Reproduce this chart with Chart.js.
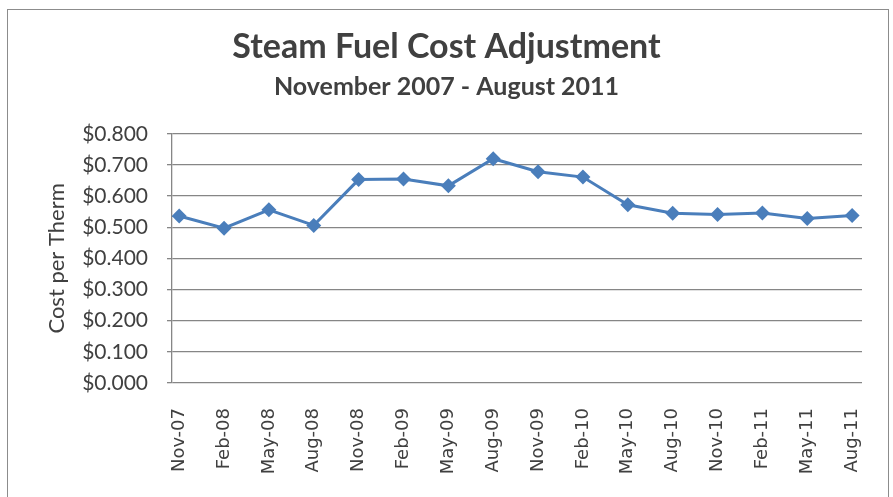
<!DOCTYPE html>
<html>
<head>
<meta charset="utf-8">
<script src="https://cdn.jsdelivr.net/npm/chart.js@4.4.0/dist/chart.umd.min.js"></script>
<style>
  html, body { margin: 0; padding: 0; background: #ffffff; }
  #wrap { width: 893px; height: 497px; position: relative; }
</style>
</head>
<body>
<div id="wrap"><canvas id="c" width="893" height="497"></canvas></div>
<script>
const categories = ["Nov-07","Feb-08","May-08","Aug-08","Nov-08","Feb-09","May-09","Aug-09",
                    "Nov-09","Feb-10","May-10","Aug-10","Nov-10","Feb-11","May-11","Aug-11"];
const costPerTherm = [0.536, 0.497, 0.556, 0.506, 0.653, 0.655, 0.633, 0.720,
                      0.678, 0.661, 0.572, 0.545, 0.541, 0.546, 0.528, 0.538];
const yTicks = [0, 0.1, 0.2, 0.3, 0.4, 0.5, 0.6, 0.7, 0.8];
const titleText = "Steam Fuel Cost Adjustment";
const subtitleText = "November 2007 - August 2011";
const yAxisTitle = "Cost per Therm";

const textColor = "#404040";
const gridColor = "#868686";

const borderPlugin = {
  id: "outerBorder",
  beforeDraw(chart) {
    const ctx = chart.ctx;
    ctx.save();
    ctx.fillStyle = "#ffffff";
    ctx.fillRect(0, 0, chart.width, chart.height);
    ctx.strokeStyle = "#8c8c8c";
    ctx.lineWidth = 1;
    ctx.strokeRect(7.5, 9.5, 881, 520);
    ctx.restore();
  }
};

new Chart(document.getElementById("c"), {
  type: "line",
  data: {
    datasets: [{
      data: costPerTherm.map((v, i) => ({ x: i, y: v })),
      borderColor: "#4A7EBB",
      backgroundColor: "#4A7EBB",
      borderWidth: 3,
      tension: 0,
      pointStyle: "rectRot",
      pointRadius: 7.5,
      pointHoverRadius: 7.5,
      pointBorderWidth: 0
    }]
  },
  options: {
    responsive: false,
    animation: false,
    events: [],
    layout: { padding: { left: 31, right: 31, top: 0, bottom: 0 } },
    plugins: {
      legend: { display: false },
      tooltip: { enabled: false },
      title: {
        display: true,
        text: titleText,
        color: textColor,
        font: { family: "Lato", weight: "bold", size: 34, lineHeight: 1.2 },
        padding: { top: 26.5, bottom: 0 }
      },
      subtitle: {
        display: true,
        text: subtitleText,
        color: textColor,
        font: { family: "Lato", weight: "bold", size: 25, lineHeight: 1.2 },
        padding: { top: 4.5, bottom: 32 }
      }
    },
    scales: {
      x: {
        type: "linear",
        min: -0.16,
        max: 15.22,
        afterBuildTicks(scale) {
          scale.ticks = categories.map((c, i) => ({ value: i }));
        },
        afterFit(scale) {
          scale.height = 114;
          scale.paddingLeft = 0;
          scale.paddingRight = 0;
        },
        grid: { display: false, drawTicks: false },
        border: { display: false },
        ticks: {
          autoSkip: false,
          minRotation: 90,
          maxRotation: 90,
          padding: 25,
          color: textColor,
          font: { family: "DejaVu Sans", size: 18 },
          callback: (v) => categories[v] ?? ""
        }
      },
      y: {
        min: 0,
        max: 0.8,
        afterBuildTicks(scale) {
          scale.ticks = yTicks.map(v => ({ value: v }));
        },
        afterFit(scale) { scale.width = 141; },
        grid: { color: gridColor, lineWidth: 1.3, tickLength: 5, drawTicks: true },
        border: { display: true, color: gridColor, width: 1.3 },
        ticks: {
          padding: 19,
          color: textColor,
          font: { family: "Lato", size: 21 },
          callback: (v) => "$" + Number(v).toFixed(3)
        },
        title: {
          display: true,
          text: yAxisTitle,
          color: textColor,
          font: { family: "Lato", size: 22, lineHeight: 1.2 },
          padding: { top: 13, bottom: 0 }
        }
      }
    }
  },
  plugins: [borderPlugin]
});
</script>
</body>
</html>
